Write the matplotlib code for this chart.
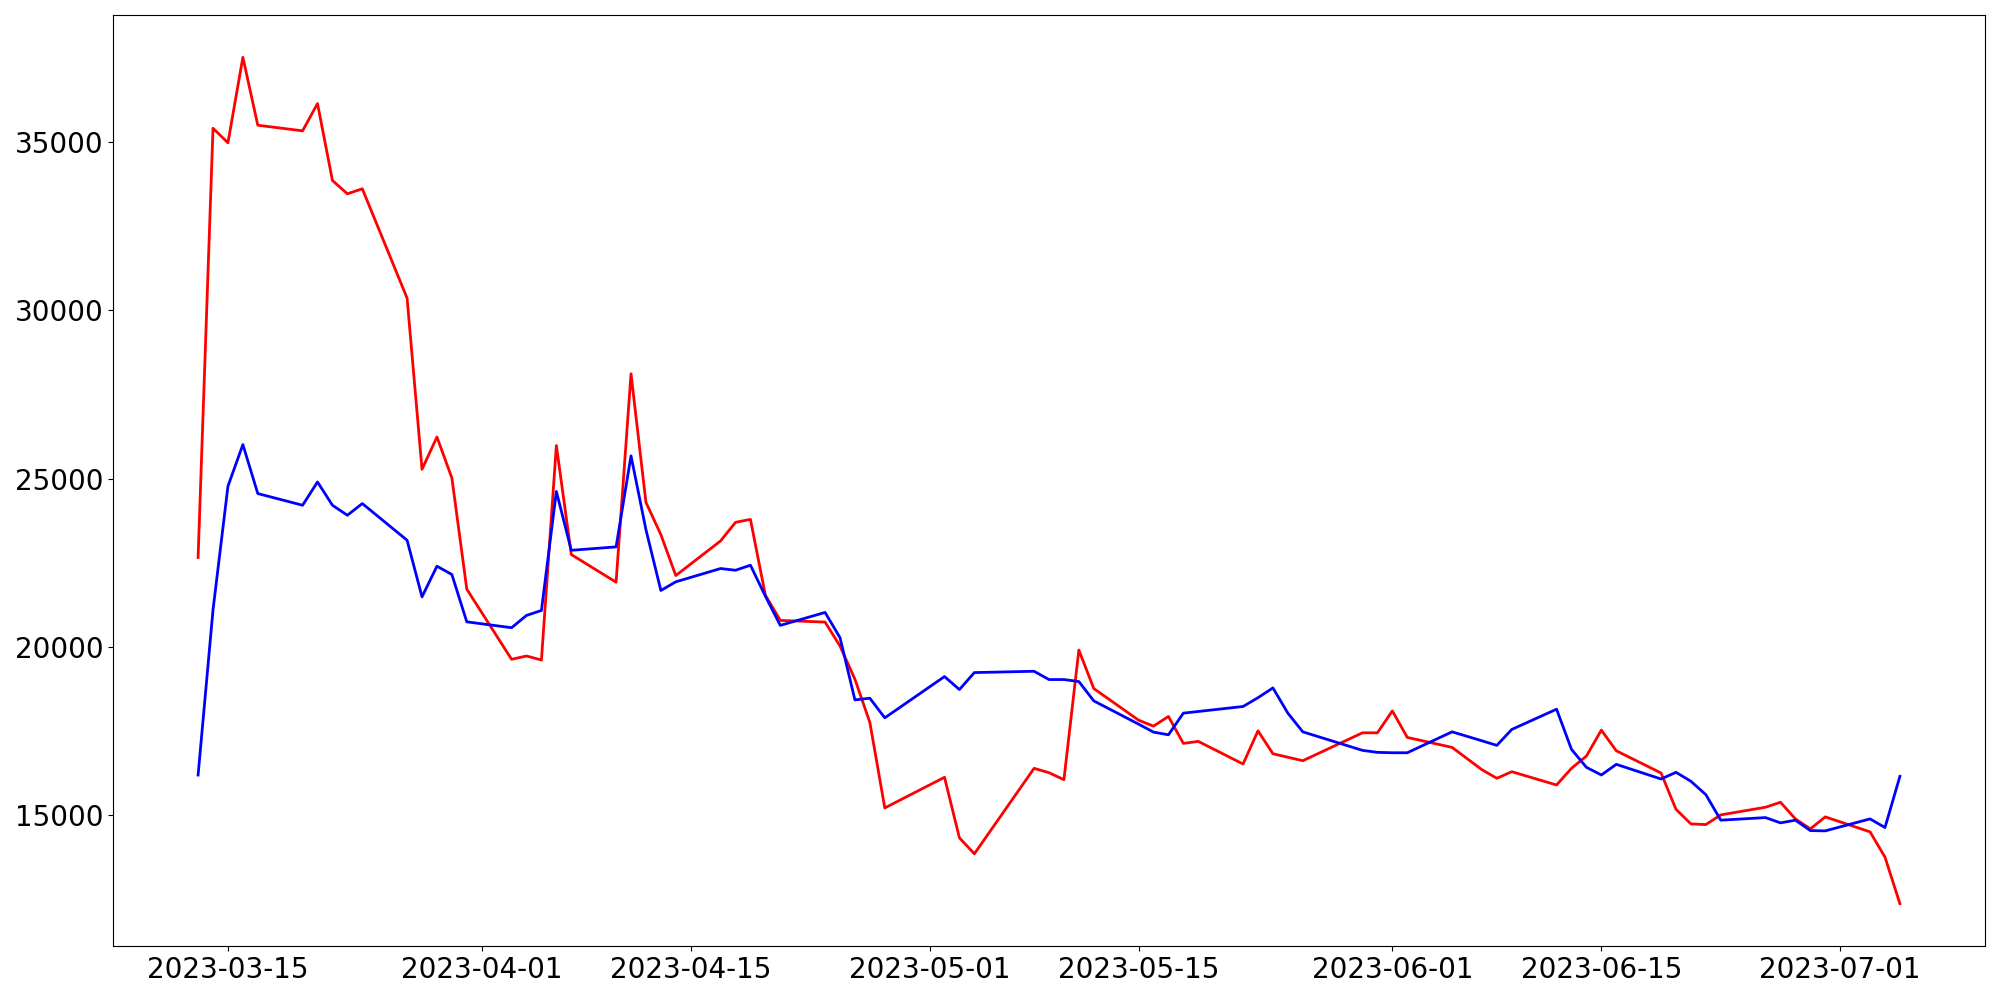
import matplotlib
matplotlib.use('Agg')
import matplotlib.pyplot as plt
import pandas as pd

# 거래일 (주말 / 휴장일 제외)
dates = [
    '2023-03-13', '2023-03-14', '2023-03-15', '2023-03-16', '2023-03-17',
    '2023-03-20', '2023-03-21', '2023-03-22', '2023-03-23', '2023-03-24',
    '2023-03-27', '2023-03-28', '2023-03-29', '2023-03-30', '2023-03-31',
    '2023-04-03', '2023-04-04', '2023-04-05', '2023-04-06', '2023-04-07',
    '2023-04-10', '2023-04-11', '2023-04-12', '2023-04-13', '2023-04-14',
    '2023-04-17', '2023-04-18', '2023-04-19', '2023-04-20', '2023-04-21',
    '2023-04-24', '2023-04-25', '2023-04-26', '2023-04-27', '2023-04-28',
    '2023-05-02', '2023-05-03', '2023-05-04',
    '2023-05-08', '2023-05-09', '2023-05-10', '2023-05-11', '2023-05-12',
    '2023-05-15', '2023-05-16', '2023-05-17', '2023-05-18', '2023-05-19',
    '2023-05-22', '2023-05-23', '2023-05-24', '2023-05-25', '2023-05-26',
    '2023-05-30', '2023-05-31', '2023-06-01', '2023-06-02',
    '2023-06-05', '2023-06-07', '2023-06-08', '2023-06-09',
    '2023-06-12', '2023-06-13', '2023-06-14', '2023-06-15', '2023-06-16',
    '2023-06-19', '2023-06-20', '2023-06-21', '2023-06-22', '2023-06-23',
    '2023-06-26', '2023-06-27', '2023-06-28', '2023-06-29', '2023-06-30',
    '2023-07-03', '2023-07-04', '2023-07-05',
]

red_values = [
    22657, 35416, 34982, 37524, 35505,
    35339, 36149, 33863, 33467, 33616,
    30367, 25279, 26239, 25021, 21715,
    19631, 19729, 19610, 25985, 22744,
    21923, 28119, 24295, 23337, 22121,
    23150, 23702, 23790, 21537, 20787,
    20737, 20025, 19038, 17754, 15213,
    16124, 14324, 13849,
    16390, 16260, 16053, 19907, 18762,
    17822, 17644, 17932, 17131, 17191,
    16518, 17505, 16823, 16720, 16616,
    17446, 17446, 18098, 17309,
    17013, 16349, 16094, 16290,
    15895, 16390, 16755, 17526, 16912,
    16251, 15172, 14739, 14718, 15006,
    15234, 15382, 14887, 14591, 14947,
    14502, 13751, 12367,
]

blue_values = [
    16190, 21100, 24774, 26013, 24557,
    24210, 24902, 24210, 23913, 24260,
    23170, 21487, 22398, 22152, 20744,
    20570, 20935, 21083, 24620, 22871,
    22972, 25679, 23485, 21676, 21934,
    22329, 22278, 22427, 21508, 20639,
    21024, 20274, 18424, 18474, 17891,
    19118, 18732, 19236,
    19275, 19029, 19029, 18970, 18395,
    17704, 17467, 17387, 18030, 18080,
    18228, 18490, 18780, 18030, 17475,
    16924, 16865, 16853, 16853,
    17475, 17209, 17072, 17546,
    18148, 16954, 16420, 16192, 16509,
    16073, 16272, 16005, 15608, 14849,
    14926, 14769, 14849, 14540, 14531,
    14887, 14630, 16153,
]

x = pd.to_datetime(dates)

fig = plt.figure(figsize=(20, 10), dpi=100)
ax = fig.add_axes([0.0565, 0.054, 0.936, 0.931])
ax.plot(x, red_values, color='red', linewidth=2)
ax.plot(x, blue_values, color='blue', linewidth=2)

ax.tick_params(axis='both', labelsize=20)
fig.savefig('out.png', dpi=100, facecolor='white')
plt.close(fig)
